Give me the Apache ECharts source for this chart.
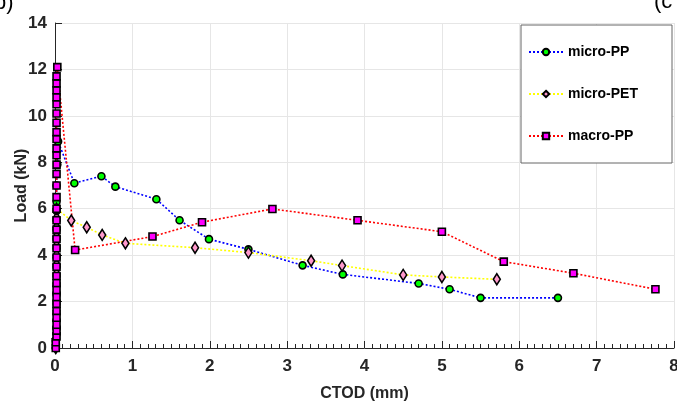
<!DOCTYPE html>
<html>
<head>
<meta charset="utf-8">
<script src="https://cdn.jsdelivr.net/npm/echarts@6/dist/echarts.min.js"></script>
<style>
  html, body { margin: 0; padding: 0; background: #fff; }
  #chart { width: 677px; height: 401px; }
</style>
</head>
<body>
<div id="chart"></div>
<script>
// CTOD (mm) / Load (kN) pairs
const microPP = [
  [0.01, 0], [0.01, 0.3], [0.02, 0.6], [0.02, 0.9], [0.02, 1.2], [0.02, 1.5], [0.02, 1.9],
  [0.02, 2.3], [0.02, 2.7], [0.02, 3.1], [0.02, 3.5], [0.02, 3.9], [0.02, 4.3], [0.02, 4.7],
  [0.02, 5.1], [0.02, 5.5], [0.02, 5.9], [0.02, 6.3], [0.02, 7.0], [0.03, 7.9], [0.04, 8.9],
  [0.25, 7.1], [0.6, 7.4], [0.78, 6.95], [1.31, 6.41], [1.61, 5.5], [1.99, 4.69],
  [2.5, 4.25], [3.2, 3.56], [3.72, 3.17], [4.7, 2.78], [5.1, 2.53], [5.5, 2.16], [6.5, 2.16]
];
const microPET = [
  [0.01, 0], [0.01, 0.4], [0.02, 0.8], [0.02, 1.2], [0.02, 1.6], [0.02, 2.0], [0.02, 2.4],
  [0.02, 2.8], [0.02, 3.2], [0.02, 3.6], [0.02, 4.0], [0.02, 4.4], [0.02, 4.8], [0.02, 5.2],
  [0.02, 5.6], [0.02, 6.0],
  [0.21, 5.49], [0.41, 5.2], [0.61, 4.87], [0.91, 4.51], [1.81, 4.32], [2.5, 4.11],
  [3.31, 3.76], [3.71, 3.55], [4.5, 3.15], [5.0, 3.06], [5.71, 2.96]
];
const macroPP = [
  [0.01, 0], [0.01, 0.25], [0.02, 0.5], [0.02, 0.75], [0.02, 1.0], [0.02, 1.3], [0.02, 1.6],
  [0.02, 1.9], [0.02, 2.2], [0.02, 2.5], [0.02, 2.8], [0.02, 3.1], [0.02, 3.5], [0.02, 3.9],
  [0.02, 4.3], [0.02, 4.7], [0.02, 5.1], [0.02, 5.5], [0.02, 6.0], [0.02, 6.5], [0.02, 7.0],
  [0.02, 7.5], [0.02, 7.9], [0.02, 8.3], [0.02, 8.6], [0.02, 9.0], [0.02, 9.3], [0.02, 9.7],
  [0.02, 10.1], [0.02, 10.5], [0.02, 10.8], [0.02, 11.1], [0.02, 11.4], [0.02, 11.7], [0.03, 12.1],
  [0.26, 4.22], [1.26, 4.8], [1.9, 5.42], [2.81, 5.99], [3.91, 5.5], [5.0, 5.01],
  [5.8, 3.72], [6.7, 3.22], [7.76, 2.53]
];
const seriesNames = ['micro-PP', 'micro-PET', 'macro-PP'];
const xTicks = [0, 1, 2, 3, 4, 5, 6, 7, 8];
const yTicks = [0, 2, 4, 6, 8, 10, 12, 14];

const chart = echarts.init(document.getElementById('chart'));
const font = '"Liberation Sans", Arial, sans-serif';
const tickStyle = { color: '#262626', fontWeight: 'bold', fontSize: 17, fontFamily: font };
const nameStyle = { color: '#262626', fontWeight: 'bold', fontSize: 16, fontFamily: font };

function lineSeries(name, data, color, symbol, fill, size) {
  return {
    name: name, type: 'line', data: data,
    symbol: symbol, symbolSize: size, showAllSymbol: true,
    lineStyle: { color: color, width: 1.6, type: [2, 2] },
    itemStyle: { color: fill, borderColor: '#000', borderWidth: 1.6 },
    emphasis: { disabled: true },
    animation: false
  };
}

chart.setOption({
  animation: false,
  grid: { left: 55, right: 3, top: 23, bottom: 53, outerBoundsMode: 'none' },
  legend: {
    left: 521, top: 25,
    orient: 'vertical',
    data: seriesNames,
    itemWidth: 34, itemHeight: 8, itemGap: 28,
    padding: [20, 34, 20, 7],
    borderColor: '#666', borderWidth: 1,
    backgroundColor: '#fff',
    textStyle: { color: '#000', fontWeight: 'bold', fontSize: 14, fontFamily: font }
  },
  xAxis: {
    type: 'value', min: xTicks[0], max: xTicks[xTicks.length - 1], interval: 1,
    name: 'CTOD (mm)', nameLocation: 'middle', nameGap: 38, nameMoveOverlap: false,
    nameTextStyle: nameStyle,
    axisLine: { onZero: false, lineStyle: { color: '#262626', width: 1 } },
    axisTick: { show: true, inside: true, length: 7, lineStyle: { color: '#262626' } },
    minorTick: { show: true, splitNumber: 10, length: 4, lineStyle: { color: '#262626' } },
    axisLabel: Object.assign({ margin: 10 }, tickStyle),
    splitLine: { show: true, lineStyle: { color: '#e6e6e6', width: 1 } }
  },
  yAxis: {
    type: 'value', min: yTicks[0], max: yTicks[yTicks.length - 1], interval: 2,
    name: 'Load (kN)', nameLocation: 'middle', nameGap: 25, nameMoveOverlap: false,
    nameTextStyle: nameStyle,
    axisLine: { show: true, onZero: false, lineStyle: { color: '#262626', width: 1 } },
    axisTick: { show: true, inside: true, length: 7, lineStyle: { color: '#262626' } },
    axisLabel: Object.assign({ margin: 8 }, tickStyle),
    splitLine: { show: true, lineStyle: { color: '#e6e6e6', width: 1 } }
  },
  graphic: [
    { type: 'text', left: -6, top: -8, style: { text: 'b)', fontSize: 22, fill: '#000', fontFamily: font } },
    { type: 'text', left: 654, top: -9, style: { text: '(c', fontSize: 22, fill: '#000', fontFamily: font } }
  ],
  series: [
    lineSeries(seriesNames[0], microPP, '#0000ff', 'circle', '#00ff00', 7),
    lineSeries(seriesNames[1], microPET, '#ffff00', 'diamond', '#ff99cc', [7, 11]),
    lineSeries(seriesNames[2], macroPP, '#ff0000', 'rect', '#ff00ff', 7)
  ]
});
</script>
</body>
</html>
